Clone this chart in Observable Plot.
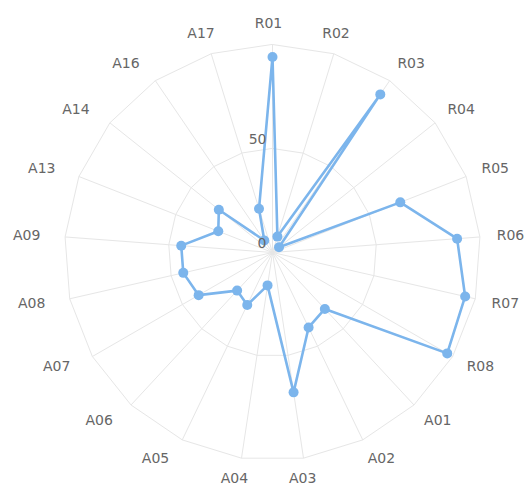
<!DOCTYPE html>
<html>
<head>
<meta charset="utf-8">
<script src="https://cdn.jsdelivr.net/npm/d3@7"></script>
<script src="https://cdn.jsdelivr.net/npm/@observablehq/plot@0.6"></script>
<style>
  html, body { margin: 0; padding: 0; background: #fff; }
  #chart { width: 530px; height: 487px; }
</style>
</head>
<body>
<div id="chart"></div>
<script>
// Categories (clockwise from top)
const categories = ["R01","R02","R03","R04","R05","R06","R07","R08","A01","A02","A03","A04","A05","A06","A07","A08","A09","A13","A14","A16","A17"];
// Series values
const values = [94, 8, 92, 4, 66, 89, 95, 97, 37, 40, 68, 16, 28, 25, 41, 44, 44, 28, 33, 7, 22];
// Radial axis ticks / grid rings
const radialTicks = [0, 50];
const gridRings = [50, 100];
const maxValue = 100;

const n = categories.length;
const degPerUnit = 0.5;              // value -> degrees from pole
const lonOf = (i) => 180 - i * 360 / n;   // clockwise from top
const latOf = (v) => 90 - v * degPerUnit;

const series = categories.map((c, i) => ({cat: c, i, value: values[i]}));
const gridPts = gridRings.flatMap((r) => categories.map((c, i) => ({ring: r, i})));
const labelValue = 110;
const angleOf = (i) => i * 360 / n;
const isMiddle = (i) => { const a = angleOf(i); return a <= 20 || a >= 340 || Math.abs(a - 180) <= 20; };
const isRight = (i) => !isMiddle(i) && angleOf(i) < 180;
const isLeft = (i) => !isMiddle(i) && angleOf(i) > 180;

const color = "#7cb5ec";
const labelStyle = {fill: "#666666", fontSize: 14, fontFamily: "DejaVu Sans"};

const chart = Plot.plot({
  width: 530,
  height: 487,
  marginLeft: 64,
  marginRight: 50,
  marginTop: 44,
  marginBottom: 27,
  style: {fontFamily: "DejaVu Sans", fontSize: "14px", background: "#fff"},
  projection: {
    type: "azimuthal-equidistant",
    rotate: [0, -90],
    clip: false,
    domain: d3.geoCircle().center([0, 90]).radius(maxValue * degPerUnit)()
  },
  marks: [
    // polygon grid rings
    Plot.line(gridPts, {
      x: (d) => lonOf(d.i),
      y: (d) => latOf(d.ring),
      z: "ring",
      curve: "linear-closed",
      stroke: "#e6e6e6",
      strokeWidth: 1
    }),
    // spokes
    Plot.link(series, {
      x1: (d) => lonOf(d.i),
      y1: 90,
      x2: (d) => lonOf(d.i),
      y2: latOf(maxValue),
      stroke: "#e6e6e6",
      strokeWidth: 1
    }),
    // data line
    Plot.line(series, {
      x: (d) => lonOf(d.i),
      y: (d) => latOf(d.value),
      curve: "linear-closed",
      stroke: color,
      strokeWidth: 2.6
    }),
    Plot.dot(series, {
      x: (d) => lonOf(d.i),
      y: (d) => latOf(d.value),
      r: 5,
      fill: color,
      stroke: "none"
    }),
    // radial tick labels
    Plot.text(radialTicks, {
      x: () => lonOf(0),
      y: (d) => latOf(d),
      text: (d) => String(d),
      textAnchor: "end",
      dx: -6,
      dy: -9,
      ...labelStyle
    }),
    // category labels
    Plot.text(series.filter((d) => isMiddle(d.i)), {
      x: (d) => lonOf(d.i), y: () => latOf(labelValue), text: "cat",
      textAnchor: "middle", dx: -4, ...labelStyle
    }),
    Plot.text(series.filter((d) => isRight(d.i)), {
      x: (d) => lonOf(d.i), y: () => latOf(labelValue), text: "cat",
      textAnchor: "start", dx: -4, ...labelStyle
    }),
    Plot.text(series.filter((d) => isLeft(d.i)), {
      x: (d) => lonOf(d.i), y: () => latOf(labelValue), text: "cat",
      textAnchor: "end", dx: -4, ...labelStyle
    })
  ]
});
document.getElementById("chart").appendChild(chart);
</script>
</body>
</html>
